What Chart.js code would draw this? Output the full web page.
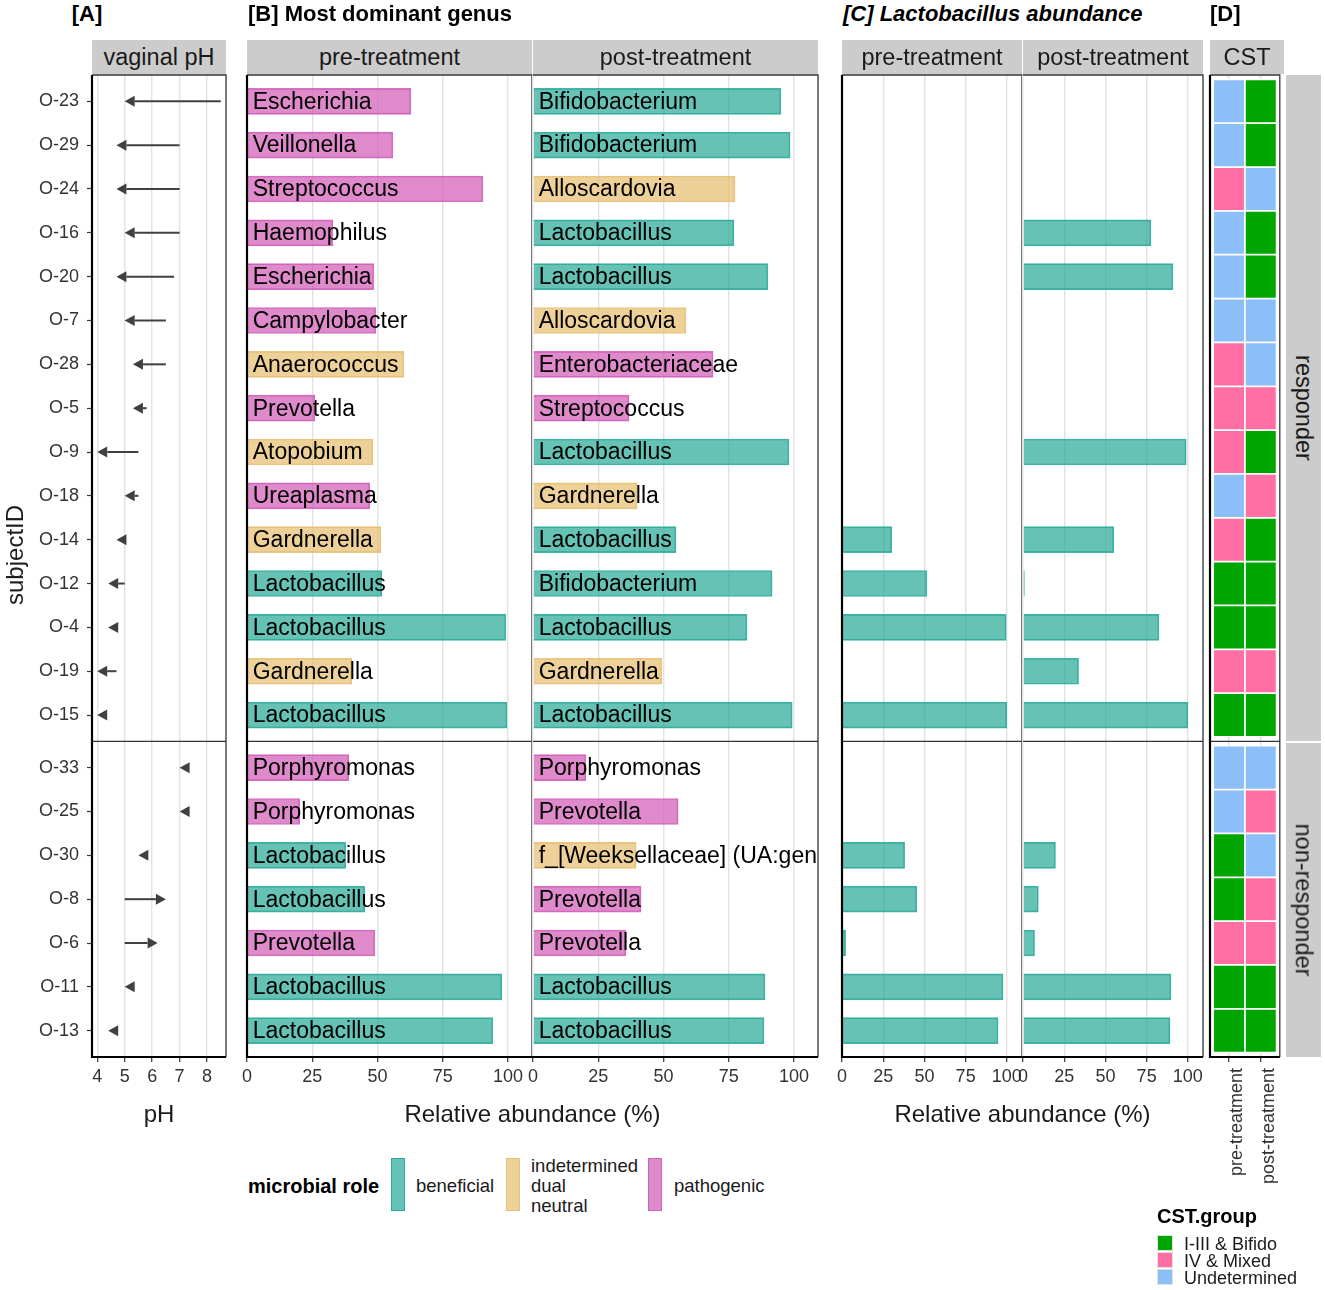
<!DOCTYPE html>
<html>
<head>
<meta charset="utf-8">
<script src="https://cdn.jsdelivr.net/npm/chart.js@4.4.0/dist/chart.umd.min.js"></script>
<style>
  body { margin: 0; background: #fff; }
  #fig { position: relative; width: 1325px; height: 1290px; overflow: hidden;
         font-family: "Liberation Sans", Arial, sans-serif; }
  #fig canvas { position: absolute; }
  .box { position: absolute; }
</style>
</head>
<body>
<div id="fig"></div>
<script>
// ---- data (rows top to bottom) ----
const responders = ['O-23', 'O-29', 'O-24', 'O-16', 'O-20', 'O-7', 'O-28', 'O-5',
                    'O-9', 'O-18', 'O-14', 'O-12', 'O-4', 'O-19', 'O-15'];
const nonResponders = ['O-33', 'O-25', 'O-30', 'O-8', 'O-6', 'O-11', 'O-13'];

// vaginal pH, responders then non-responders
const phPre  = [8.5, 7.0, 7.0, 7.0, 6.8, 6.5, 6.5, 5.8, 5.5, 5.5, 5.0, 5.0, 4.6, 4.7, 4.3,
                7.2, 7.2, 5.7, 5.0, 5.0, 5.2, 4.6];
const phPost = [5.0, 4.7, 4.7, 5.0, 4.7, 5.0, 5.3, 5.3, 4.0, 5.0, 4.7, 4.4, 4.4, 4.0, 4.0,
                7.0, 7.0, 5.5, 6.5, 6.2, 5.0, 4.4];

// most dominant genus
const genusPre = ['Escherichia', 'Veillonella', 'Streptococcus', 'Haemophilus', 'Escherichia',
                  'Campylobacter', 'Anaerococcus', 'Prevotella', 'Atopobium', 'Ureaplasma',
                  'Gardnerella', 'Lactobacillus', 'Lactobacillus', 'Gardnerella', 'Lactobacillus',
                  'Porphyromonas', 'Porphyromonas', 'Lactobacillus', 'Lactobacillus', 'Prevotella',
                  'Lactobacillus', 'Lactobacillus'];
const rolePre = ['pathogenic', 'pathogenic', 'pathogenic', 'pathogenic', 'pathogenic',
                 'pathogenic', 'indetermined', 'pathogenic', 'indetermined', 'pathogenic',
                 'indetermined', 'beneficial', 'beneficial', 'indetermined', 'beneficial',
                 'pathogenic', 'pathogenic', 'beneficial', 'beneficial', 'pathogenic',
                 'beneficial', 'beneficial'];
const abundPre = [62.8, 55.9, 90.4, 32.9, 48.6, 49.3, 60.1, 26.0, 48.2, 47.0, 51.3, 51.6, 99.2, 40.1, 99.6,
                  39.0, 20.2, 37.8, 45.1, 49.0, 97.6, 94.2];

const genusPost = ['Bifidobacterium', 'Bifidobacterium', 'Alloscardovia', 'Lactobacillus', 'Lactobacillus',
                   'Alloscardovia', 'Enterobacteriaceae', 'Streptococcus', 'Lactobacillus', 'Gardnerella',
                   'Lactobacillus', 'Bifidobacterium', 'Lactobacillus', 'Gardnerella', 'Lactobacillus',
                   'Porphyromonas', 'Prevotella', 'f_[Weeksellaceae] (UA:genus)', 'Prevotella', 'Prevotella',
                   'Lactobacillus', 'Lactobacillus'];
const rolePost = ['beneficial', 'beneficial', 'indetermined', 'beneficial', 'beneficial',
                  'indetermined', 'pathogenic', 'pathogenic', 'beneficial', 'indetermined',
                  'beneficial', 'beneficial', 'beneficial', 'indetermined', 'beneficial',
                  'pathogenic', 'pathogenic', 'indetermined', 'pathogenic', 'pathogenic',
                  'beneficial', 'beneficial'];
const abundPost = [95.0, 98.5, 77.4, 77.0, 90.0, 58.6, 69.0, 36.8, 98.1, 39.9, 54.8, 91.6, 82.0, 49.4, 99.3,
                   20.3, 55.6, 39.5, 41.4, 35.6, 88.9, 88.5];

// Lactobacillus abundance
const lactoPre  = [0, 0, 0, 0, 0, 0, 0, 0, 0, 0, 30.2, 51.5, 99.6, 0, 100,
                   0, 0, 38.0, 45.4, 2.2, 97.7, 94.7];
const lactoPost = [0, 0, 0, 77.6, 91.0, 0, 0, 0, 99.0, 0, 55.0, 0.8, 82.5, 33.7, 100,
                   0, 0, 19.7, 9.3, 7.0, 89.8, 89.2];

// CST group
const cstPre  = ['Undetermined', 'Undetermined', 'IV & Mixed', 'Undetermined', 'Undetermined',
                 'Undetermined', 'IV & Mixed', 'IV & Mixed', 'IV & Mixed', 'Undetermined',
                 'IV & Mixed', 'I-III & Bifido', 'I-III & Bifido', 'IV & Mixed', 'I-III & Bifido',
                 'Undetermined', 'Undetermined', 'I-III & Bifido', 'I-III & Bifido', 'IV & Mixed',
                 'I-III & Bifido', 'I-III & Bifido'];
const cstPost = ['I-III & Bifido', 'I-III & Bifido', 'Undetermined', 'I-III & Bifido', 'I-III & Bifido',
                 'Undetermined', 'Undetermined', 'IV & Mixed', 'I-III & Bifido', 'IV & Mixed',
                 'I-III & Bifido', 'I-III & Bifido', 'I-III & Bifido', 'IV & Mixed', 'I-III & Bifido',
                 'Undetermined', 'IV & Mixed', 'Undetermined', 'IV & Mixed', 'IV & Mixed',
                 'I-III & Bifido', 'I-III & Bifido'];

const phTicks = [4, 5, 6, 7, 8];
const pctTicks = [0, 25, 50, 75, 100];
const cstColumns = ['pre-treatment', 'post-treatment'];

// ---- styling ----
const roleFill = {
  beneficial: 'rgba(36,168,149,0.7)',
  indetermined: 'rgba(229,189,108,0.7)',
  pathogenic: 'rgba(208,88,181,0.7)'
};
const roleLine = {
  beneficial: 'rgba(36,168,149,0.85)',
  indetermined: 'rgba(229,189,108,0.85)',
  pathogenic: 'rgba(208,88,181,0.85)'
};
const cstFill = {
  'I-III & Bifido': '#00A600',
  'IV & Mixed': '#FF6FA3',
  'Undetermined': '#8CBEF7'
};

Chart.defaults.font.family = '"Liberation Sans", Arial, sans-serif';
Chart.defaults.color = '#333';

const TOP = 75, BOTTOM = 1057, PAD_T = 25;
const Y_MIN = -0.6, Y_MAX = 21.8, FACET_GAP = 0.2;
const subjects = responders.concat(nonResponders);
const rowPos = subjects.map((s, i) => i < responders.length ? i : i + FACET_GAP);
const DIVIDER = responders.length - 0.4;
const TICK_FONT = 18;

const fig = document.getElementById('fig');

function makeCanvas(areaL, areaR, padL, padR, axisH) {
  const c = document.createElement('canvas');
  const w = areaR - areaL + padL + padR;
  const h = PAD_T + (BOTTOM - TOP) + axisH;
  c.width = w; c.height = h;
  c.style.left = (areaL - padL) + 'px';
  c.style.top = (TOP - PAD_T) + 'px';
  c.style.width = w + 'px';
  c.style.height = h + 'px';
  fig.appendChild(c);
  return c;
}

function yScale(showLabels) {
  return {
    type: 'linear', reverse: true, min: Y_MIN, max: Y_MAX, offset: false,
    display: showLabels,
    afterBuildTicks: s => { s.ticks = rowPos.map(v => ({ value: v })); },
    afterFit: s => { s.width = showLabels ? 92 : 0; },
    grid: { offset: false, drawOnChartArea: false, tickLength: 5, tickColor: '#333', tickWidth: 1.2 },
    border: { display: false },
    ticks: { autoSkip: false, padding: 8, font: { size: TICK_FONT }, color: '#333',
             callback: (v, i) => subjects[i] }
  };
}

function xScale(min, max, tickVals, axisH, extraTicks) {
  return {
    type: 'linear', min, max, offset: false,
    afterBuildTicks: s => { s.ticks = tickVals.map(v => ({ value: v })); },
    afterFit: s => { s.height = axisH; },
    grid: { color: '#E2E2E2', lineWidth: 1.4, tickLength: 5, tickColor: '#333', tickWidth: 1.2 },
    border: { display: false },
    ticks: Object.assign({ padding: 4, font: { size: TICK_FONT }, color: '#333',
                           maxRotation: 0, autoSkip: false }, extraTicks || {})
  };
}

function baseOptions(x, y, padL, padR, frame) {
  return {
    responsive: false, animation: false,
    layout: { padding: { left: padL, right: padR, top: PAD_T, bottom: 0 } },
    plugins: { legend: { display: false }, tooltip: { enabled: false }, frame },
    scales: { x, y }
  };
}

// panel borders, facet divider and black axis lines
const framePlugin = {
  id: 'frame',
  afterDraw(chart, args, opts) {
    const { ctx, chartArea: a } = chart;
    const yd = chart.scales.y.getPixelForValue(DIVIDER);
    ctx.save();
    ctx.strokeStyle = '#333';
    ctx.lineWidth = 1.3;
    ctx.beginPath();
    ctx.moveTo(a.left, a.top); ctx.lineTo(a.right, a.top); ctx.lineTo(a.right, a.bottom);
    ctx.moveTo(a.left, yd); ctx.lineTo(a.right, yd);
    ctx.stroke();
    ctx.strokeStyle = '#000';
    ctx.lineWidth = 2.2;
    ctx.beginPath();
    ctx.moveTo(a.left - 1, a.bottom); ctx.lineTo(a.right, a.bottom);
    if (opts.leftAxis) { ctx.moveTo(a.left, a.top); ctx.lineTo(a.left, a.bottom + 1); }
    ctx.stroke();
    ctx.restore();
  }
};
Chart.register(framePlugin);

// pH change arrows, from the pre point to the post point
const arrowPlugin = {
  id: 'phArrows',
  afterDatasetsDraw(chart) {
    const { ctx } = chart;
    const pre = chart.getDatasetMeta(0).data, post = chart.getDatasetMeta(1).data;
    const head = 10, half = 5.5;
    ctx.save();
    ctx.strokeStyle = ctx.fillStyle = '#404040';
    ctx.lineWidth = 2;
    pre.forEach((p, i) => {
      const q = post[i];
      const dir = Math.sign(q.x - p.x) || -1;
      if (Math.abs(q.x - p.x) > head) {
        ctx.beginPath(); ctx.moveTo(p.x, p.y); ctx.lineTo(q.x - dir * head, q.y); ctx.stroke();
      }
      ctx.beginPath();
      ctx.moveTo(q.x, q.y);
      ctx.lineTo(q.x - dir * head, q.y - half);
      ctx.lineTo(q.x - dir * head, q.y + half);
      ctx.closePath();
      ctx.fill();
    });
    ctx.restore();
  }
};

// genus names written on the bars, clipped to the panel
const barLabels = {
  id: 'barLabels',
  afterDatasetsDraw(chart, args, opts) {
    if (!opts.labels) return;
    const { ctx, chartArea: a } = chart;
    ctx.save();
    ctx.beginPath(); ctx.rect(a.left, a.top, a.right - a.left, a.bottom - a.top); ctx.clip();
    ctx.font = '23px "Liberation Sans", Arial, sans-serif';
    ctx.fillStyle = '#000';
    ctx.textBaseline = 'middle';
    chart.getDatasetMeta(0).data.forEach((bar, i) => {
      ctx.fillText(opts.labels[i], bar.base + 5, bar.y + 1);
    });
    ctx.restore();
  }
};

// [A] vaginal pH
new Chart(makeCanvas(92, 226, 92, 6, 60), {
  type: 'scatter',
  data: {
    datasets: [
      { data: phPre.map((v, i) => ({ x: v, y: rowPos[i] })), pointRadius: 0 },
      { data: phPost.map((v, i) => ({ x: v, y: rowPos[i] })), pointRadius: 0 }
    ]
  },
  options: baseOptions(xScale(3.81, 8.69, phTicks, 60), yScale(true), 0, 6, { leftAxis: true }),
  plugins: [arrowPlugin]
});

function abundanceChart(areaL, areaR, values, roles, labels, leftAxis) {
  const opts = baseOptions(xScale(0, 109.2, pctTicks, 60), yScale(false), 20, 6, { leftAxis });
  opts.indexAxis = 'y';
  opts.plugins.barLabels = { labels };
  new Chart(makeCanvas(areaL, areaR, 20, 6, 60), {
    type: 'bar',
    data: {
      datasets: [{
        data: values.map((v, i) => ({ x: v, y: rowPos[i] })),
        backgroundColor: roles.map(r => roleFill[r]),
        borderColor: roles.map(r => roleLine[r]),
        borderWidth: 1,
        barThickness: 26
      }]
    },
    options: opts,
    plugins: [barLabels]
  });
}

// [B] most dominant genus
abundanceChart(247, 532, abundPre, rolePre, genusPre, true);
abundanceChart(533, 818, abundPost, rolePost, genusPost, false);

// [C] Lactobacillus abundance
const allBeneficial = subjects.map(() => 'beneficial');
abundanceChart(842, 1022, lactoPre, allBeneficial, null, true);
abundanceChart(1023, 1203, lactoPost, allBeneficial, null, false);

// [D] CST tiles
{
  const opts = baseOptions(
    xScale(0.4, 2.6, [1, 2], 150, { minRotation: 90, maxRotation: 90, padding: 6, labelOffset: 8,
                                     callback: (v, i) => cstColumns[i] }),
    yScale(false), 20, 6, { leftAxis: true });
  opts.indexAxis = 'y';
  opts.datasets = { bar: { grouped: false, barThickness: 43.84, borderWidth: 1.2,
                           borderColor: '#fff', borderSkipped: false } };
  new Chart(makeCanvas(1210, 1284, 20, 6, 150), {
    type: 'bar',
    data: {
      datasets: [cstPre, cstPost].map((col, k) => ({
        data: rowPos.map(p => ({ y: p, x: [k + 0.5, k + 1.5] })),
        backgroundColor: col.map(c => cstFill[c])
      }))
    },
    options: opts
  });
}

// ---- text, strips, legends ----
function text(str, x, y, o = {}) {
  const d = document.createElement('div');
  d.className = 'box';
  d.textContent = str;
  const tx = o.anchor === 'left' ? '0' : '-50%';
  d.style.cssText += `left:${x}px;top:${y}px;white-space:nowrap;line-height:1;` +
    `font-size:${o.size || 24}px;font-weight:${o.weight || 'normal'};font-style:${o.style || 'normal'};` +
    `color:${o.color || '#1a1a1a'};transform:translate(${tx},-50%) rotate(${o.rotate || 0}deg);`;
  fig.appendChild(d);
}
function rect(x, y, w, h, bg, border) {
  const d = document.createElement('div');
  d.className = 'box';
  d.style.cssText += `left:${x}px;top:${y}px;width:${w}px;height:${h}px;background:${bg};` +
    (border ? `box-sizing:border-box;border:1px solid ${border};` : '');
  fig.appendChild(d);
}

// panel titles
text('[A]', 87, 14, { size: 22, weight: 'bold', color: '#000' });
text('[B] Most dominant genus', 248, 14, { size: 22, weight: 'bold', anchor: 'left', color: '#000' });
text('[C] Lactobacillus abundance', 843, 14, { size: 22, weight: 'bold', style: 'italic', anchor: 'left', color: '#000' });
text('[D]', 1210, 14, { size: 22, weight: 'bold', anchor: 'left', color: '#000' });

// top strips
const strips = [['vaginal pH', 92, 226], ['pre-treatment', 247, 532], ['post-treatment', 533, 818],
                ['pre-treatment', 842, 1022], ['post-treatment', 1023, 1203], ['CST', 1210, 1284]];
strips.forEach(([t, l, r]) => {
  rect(l, 40, r - l, 34, '#CCCCCC');
  text(t, (l + r) / 2, 58, { size: 23.5 });
});

// right facet strips
rect(1286, 75, 35, 666, '#CCCCCC');
rect(1286, 743, 35, 314, '#CCCCCC');
text('responder', 1303, 408, { size: 23.5, rotate: 90 });
text('non-responder', 1303, 900, { size: 23.5, rotate: 90 });

// axis titles
text('subjectID', 15, 555, { size: 24, rotate: -90 });
text('pH', 159, 1114, { size: 24 });
text('Relative abundance (%)', 532.5, 1114, { size: 24 });
text('Relative abundance (%)', 1022.5, 1114, { size: 24 });

// microbial role legend
text('microbial role', 248, 1186, { size: 20, weight: 'bold', anchor: 'left', color: '#000' });
rect(391, 1158, 14, 53, roleFill.beneficial, roleLine.beneficial);
text('beneficial', 416, 1186, { size: 18.5, anchor: 'left' });
rect(506, 1158, 14, 53, roleFill.indetermined, roleLine.indetermined);
text('indetermined', 531, 1166, { size: 18.5, anchor: 'left' });
text('dual', 531, 1186, { size: 18.5, anchor: 'left' });
text('neutral', 531, 1206, { size: 18.5, anchor: 'left' });
rect(648, 1158, 14, 53, roleFill.pathogenic, roleLine.pathogenic);
text('pathogenic', 674, 1186, { size: 18.5, anchor: 'left' });

// CST legend
text('CST.group', 1157, 1216, { size: 20, weight: 'bold', anchor: 'left', color: '#000' });
Object.keys(cstFill).forEach((k, i) => {
  rect(1157, 1235 + i * 17, 16, 16, cstFill[k], '#E0E0E0');
  text(k, 1184, 1244 + i * 17, { size: 18, anchor: 'left' });
});
</script>
</body>
</html>
